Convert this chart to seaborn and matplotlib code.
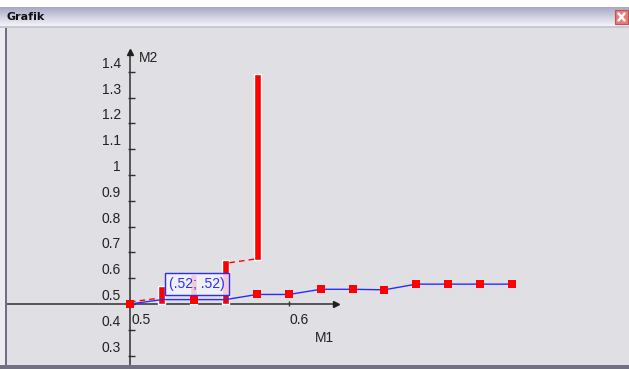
import numpy as np
import matplotlib
matplotlib.use("Agg")
import matplotlib.pyplot as plt
import seaborn as sns
from matplotlib.patches import Rectangle
from matplotlib.colors import LinearSegmentedColormap

# data
m1 = [0.50, 0.52, 0.54, 0.56, 0.58, 0.60, 0.62, 0.64, 0.66, 0.68, 0.70, 0.72, 0.74]
m2_line = [0.500, 0.517, 0.517, 0.517, 0.537, 0.537, 0.557, 0.557, 0.555, 0.577, 0.577, 0.577, 0.577]
square_x = [0.50, 0.54, 0.58, 0.60, 0.62, 0.64, 0.66, 0.68, 0.70, 0.72, 0.74]
square_y = [0.500, 0.514, 0.537, 0.537, 0.557, 0.557, 0.555, 0.577, 0.577, 0.577, 0.577]
bar_x = [0.52, 0.54, 0.56, 0.58]
bar_bottom = [0.50, 0.50, 0.50, 0.67]
bar_top = [0.57, 0.615, 0.67, 1.39]
dash_x = [[0.50, 0.5175], [0.5625, 0.5785]]
dash_y = [[0.508, 0.522], [0.660, 0.674]]
yticks = [0.3, 0.4, 0.5, 0.6, 0.7, 0.8, 0.9, 1.0, 1.1, 1.2, 1.3, 1.4]
ytick_labels = ["0.3", "0.4", "0.5", "0.6", "0.7", "0.8", "0.9", "1", "1.1", "1.2", "1.3", "1.4"]
xticks = [0.5, 0.6]
xtick_labels = ["0.5", "0.6"]
tooltip = "(.52; .52)"

sns.set_style("white")
plt.rcParams["font.family"] = ["Liberation Sans", "DejaVu Sans"]

W, H = 629, 369
fig = plt.figure(figsize=(W / 100, H / 100), dpi=100)
fig.patch.set_facecolor("#e0dfe3")

# pixel scale: origin (0.5, 0.5) at pixel (130, 304)
sx, sy = 1590.0, 258.0
def px(x, y):
    return 0.5 + (x - 130) / sx, 0.5 + (304 - y) / sy

ax = fig.add_axes([0, 0, 1, 1])
ax.set_xlim(px(0, 0)[0], px(W, 0)[0])
ax.set_ylim(px(0, H)[1], px(0, 0)[1])
ax.set_facecolor("#e0dfe3")
ax.axis("off")

# bars
ax.bar(bar_x, np.array(bar_top) - np.array(bar_bottom), bottom=bar_bottom,
       width=7 / sx, color="#ff0000", zorder=3)
for dx, dy in zip(dash_x, dash_y):
    ax.plot(dx, dy, color="#ff0000", lw=1, ls=(0, (4, 3)), zorder=3)

sns.lineplot(x=m1, y=m2_line, color="#2b2bff", lw=1, ax=ax, zorder=4)
sns.scatterplot(x=square_x, y=square_y, marker="s", s=34, color="#ff0000",
                linewidth=0, ax=ax, zorder=5)

# axes lines
ax.plot([px(7, 0)[0], px(336, 0)[0]], [0.5, 0.5], color="#303030", lw=1.1, zorder=2)
ax.plot([px(336, 0)[0]], [0.5], marker=">", ms=5, color="#202020", zorder=2)
ax.plot([0.5, 0.5], [px(0, H)[1], px(0, 52)[1]], color="#303030", lw=1.1, zorder=2)
ax.plot([0.5], [px(0, 52)[1]], marker="^", ms=5, color="#202020", zorder=2)

ax.hlines(yticks, 0.5 - 2 / sx, 0.5 + 5 / sx, color="#303030", lw=1, zorder=2)
ax.vlines([x for x in xticks if x != 0.5], 0.5 - 2 / sy, 0.5 + 3 / sy,
          color="#303030", lw=1, zorder=2)
for y, lab in zip(yticks, ytick_labels):
    ax.text(0.5 - 9 / sx, y + 8 / sy, lab, ha="right", va="center",
            fontsize=10, color="#222222")
for x, lab in zip(xticks, xtick_labels):
    ax.text(x + 1 / sx, 0.5 - 16 / sy, lab, ha="left", va="center",
            fontsize=10, color="#222222")
ax.text(*px(315, 338), "M1", ha="left", va="center", fontsize=10, color="#222222")
ax.text(*px(139, 58), "M2", ha="left", va="center", fontsize=10, color="#222222")

# tooltip box
x0, y0 = px(165, 295)
x1, y1 = px(229, 273)
ax.add_patch(Rectangle((x0, y0), x1 - x0, y1 - y0, facecolor="#f2f2fa",
                       alpha=0.85, edgecolor="none", zorder=6))
ax.add_patch(Rectangle((x0, y0), x1 - x0, y1 - y0, facecolor="none",
                       edgecolor="#2b2bff", lw=1, zorder=7))
ax.text((x0 + x1) / 2, (y0 + y1) / 2, tooltip, ha="center", va="center",
        fontsize=10, color="#2b2bff", zorder=8)

# window chrome
def frect(x, y, w, h, **kw):
    fig.add_artist(Rectangle((x / W, 1 - (y + h) / H), w / W, h / H,
                             transform=fig.transFigure, **kw))

frect(0, 0, W, 7, facecolor="white", edgecolor="none")
tax = fig.add_axes([0, 1 - 26 / H, 1, 19 / H])
grad = LinearSegmentedColormap.from_list("tb", ["#a7a7c6", "#cfcfe0", "#f4f4f8"])
tax.imshow(np.linspace(0, 1, 50).reshape(-1, 1), aspect="auto", cmap=grad,
           extent=[0, 1, 0, 1], origin="upper")
tax.axis("off")
fig.text(7 / W, 1 - 17 / H, "Grafik", fontsize=8, fontweight="bold",
         family="DejaVu Sans", va="center", ha="left", color="#111111")
frect(615, 10, 13, 14, facecolor="#e87a7a", edgecolor="#c85050", lw=0.8)
fig.add_artist(plt.Line2D([618.5 / W, 624.5 / W], [1 - 13.5 / H, 1 - 20.5 / H],
                          transform=fig.transFigure, color="white", lw=1.8))
fig.add_artist(plt.Line2D([618.5 / W, 624.5 / W], [1 - 20.5 / H, 1 - 13.5 / H],
                          transform=fig.transFigure, color="white", lw=1.8))
frect(0, 26, W, 2, facecolor="#c8c8d4", edgecolor="none")
frect(0, 28, 5, H - 28, facecolor="#ececf0", edgecolor="none")
frect(5, 28, 2, H - 28, facecolor="#6e6e84", edgecolor="none")
frect(0, 365, W, 4, facecolor="#707082", edgecolor="none")

fig.savefig("out.png", dpi=100)
